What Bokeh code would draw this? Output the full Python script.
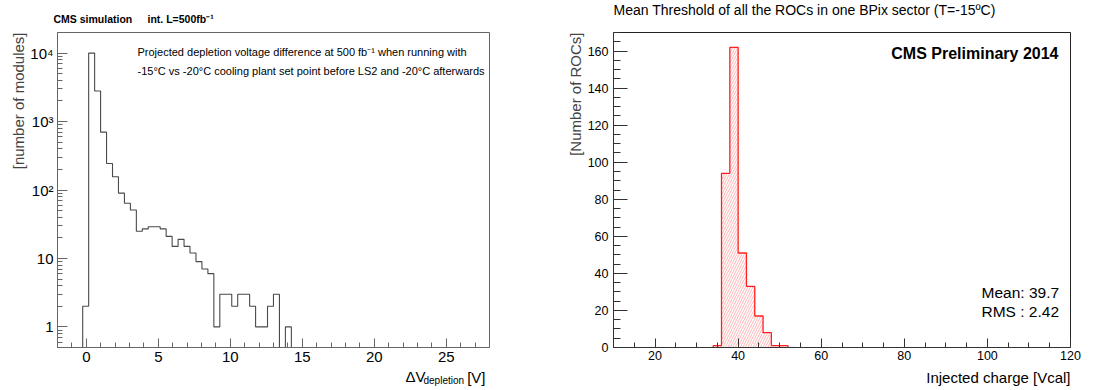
import numpy as np
from bokeh.plotting import figure
from bokeh.models import Label, FixedTicker, Range1d, Title
from bokeh.layouts import row, column
from bokeh.embed import file_html
from bokeh.resources import INLINE

FONT = "Liberation Sans"

# ---------------- data: left chart (depletion voltage difference) ----------------
dv_bin_start = -0.25
dv_bin_width = 0.414
dv_counts = [2, 10000, 2800, 700, 244, 156, 90, 64, 51, 25, 27, 29, 29, 27, 21,
             15, 19, 15, 12, 9, 7, 6, 1, 3, 3, 2, 3, 3, 2, 1, 1, 2, 3, 0, 1]
dv_major_ticks = [0, 5, 10, 15, 20, 25]
dv_y_ticks = [1, 10, 100, 1000, 10000]
dv_y_tick_labels = ["1", "10", "10\u00b2", "10\u00b3", "10\u2074"]

# ---------------- data: right chart (ROC thresholds) ----------------
roc_edges = [34, 36, 38, 40, 42, 44, 46, 48, 50, 52]
roc_counts = [1, 94, 162, 51, 33, 17, 8, 1, 1]
roc_x_ticks = [20, 40, 60, 80, 100, 120]
roc_y_ticks = [0, 20, 40, 60, 80, 100, 120, 140, 160]

W_HALF = 547
TOP_H, MAIN_H, BOT_H = 24, 342, 24


def step_path(edges, counts, floor):
    xs, ys = [edges[0]], [floor]
    for i, c in enumerate(counts):
        v = c if c > 0 else floor
        xs += [edges[i], edges[i + 1]]
        ys += [v, v]
    xs.append(edges[-1])
    ys.append(floor)
    return xs, ys


def style_axis(ax, color, major_in, minor_in, size, standoff):
    ax.axis_line_color = color
    ax.major_tick_line_color = color
    ax.minor_tick_line_color = color
    ax.major_tick_in = major_in
    ax.major_tick_out = 0
    ax.minor_tick_in = minor_in
    ax.minor_tick_out = 0
    ax.major_label_text_font = FONT
    ax.major_label_text_font_size = size
    ax.major_label_text_color = "black"
    ax.major_label_standoff = standoff


def add_label(p, text, X, Y, ox, oy, size, align="left", bold=False, angle=0.0):
    # X, Y: page coords; ox: page x of frame left, oy: page y of frame bottom
    p.add_layout(Label(x=X - ox, y=oy - Y, x_units="screen", y_units="screen", text=text,
                       text_font=FONT, text_font_size=size, text_align=align,
                       text_baseline="middle", text_color="black",
                       text_font_style="bold" if bold else "normal", angle=angle))


def strip(height):
    s = figure(width=W_HALF, height=height, min_border=0, x_axis_location=None,
               y_axis_location=None, x_range=Range1d(0, W_HALF), y_range=Range1d(0, height),
               output_backend="svg", toolbar_location=None)
    s.grid.visible = False
    s.outline_line_color = None
    s.background_fill_color = "white"
    s.border_fill_color = "white"
    return s


# ================= left figure =================
L_FL, L_FB = 57, 343  # page coords of frame left / bottom
p1 = figure(width=W_HALF, height=MAIN_H, frame_width=432, frame_height=315,
            min_border_left=57, min_border_right=58, min_border_top=4, min_border_bottom=23,
            x_range=Range1d(-2, 28), y_range=Range1d(0.5, 20000), y_axis_type="log",
            output_backend="svg", toolbar_location=None)
p1.grid.visible = False
p1.outline_line_color = "#666666"
p1.outline_line_width = 1
p1.background_fill_color = "white"
p1.border_fill_color = "white"

dv_edges = [dv_bin_start + i * dv_bin_width for i in range(len(dv_counts) + 1)]
xs, ys = step_path(dv_edges, dv_counts, 0.05)
p1.line(xs, ys, line_color="#4a4a4a", line_width=1.1)

p1.xaxis.ticker = FixedTicker(ticks=dv_major_ticks, minor_ticks=list(range(-2, 29)))
minor_log = [m * 10.0 ** e for e in range(-1, 5) for m in range(2, 10) if 0.5 <= m * 10.0 ** e <= 20000]
p1.yaxis.ticker = FixedTicker(ticks=dv_y_ticks, minor_ticks=minor_log)
p1.yaxis.major_label_overrides = {t: s for t, s in zip(dv_y_ticks, dv_y_tick_labels)}
style_axis(p1.xaxis[0], "#666666", 9, 5, "15px", 4)
style_axis(p1.yaxis[0], "#666666", 10, 5, "15px", 4)
p1.add_layout(Title(text="[number of modules]", align="right", text_font=FONT,
                    text_font_size="15px", text_font_style="normal", standoff=2), "left")

add_label(p1, "Projected depletion voltage difference at 500 fb\u207b\u00b9 when running with",
          137, 47, L_FL, L_FB, "11px")
add_label(p1, "-15\u00b0C vs -20\u00b0C cooling plant set point before LS2 and -20\u00b0C afterwards",
          137, 66, L_FL, L_FB, "11px")

# ================= right figure =================
R_FL, R_FB = 613, 347
p2 = figure(width=W_HALF, height=MAIN_H, frame_width=457, frame_height=315,
            min_border_left=66, min_border_right=24, min_border_top=8, min_border_bottom=19,
            x_range=Range1d(10, 120), y_range=Range1d(0, 170),
            output_backend="svg", toolbar_location=None)
p2.grid.visible = False
p2.outline_line_color = "#222222"
p2.outline_line_width = 1
p2.background_fill_color = "white"
p2.border_fill_color = "white"

p2.quad(left=roc_edges[:-1], right=roc_edges[1:], top=roc_counts, bottom=0,
        fill_color=None, line_color=None, hatch_pattern="/", hatch_color="#ff6060",
        hatch_alpha=0.8, hatch_scale=5, hatch_weight=0.6)
rx, ry = step_path(roc_edges, roc_counts, 0)
p2.line(rx, ry, line_color="#ff2020", line_width=1.3)

p2.xaxis.ticker = FixedTicker(ticks=roc_x_ticks, minor_ticks=list(range(10, 121, 5)))
p2.yaxis.ticker = FixedTicker(ticks=roc_y_ticks, minor_ticks=list(range(0, 171, 5)))
style_axis(p2.xaxis[0], "#333333", 9, 5, "12.5px", 3)
style_axis(p2.yaxis[0], "#333333", 14, 7, "12.5px", 5)
p2.add_layout(Title(text="[Number of ROCs]", align="right", text_font=FONT,
                    text_font_size="15px", text_font_style="normal", standoff=2), "left")

add_label(p2, "CMS Preliminary 2014", 1058, 53, R_FL, R_FB, "16px", align="right", bold=True)
add_label(p2, "Mean: 39.7", 981, 292, R_FL, R_FB, "15.5px")
add_label(p2, "RMS : 2.42", 981, 311, R_FL, R_FB, "15.5px")

# ================= text strips (above / below the charts) =================
top_l = strip(TOP_H)
add_label(top_l, "CMS simulation", 53, 18, 0, TOP_H, "10.5px", bold=True)
add_label(top_l, "int. L=500fb\u207b\u00b9", 147, 18, 0, TOP_H, "10.5px", bold=True)
top_r = strip(TOP_H)
add_label(top_r, "Mean Threshold of all the ROCs in one BPix sector (T=-15\u00baC)",
          613, 9, W_HALF, TOP_H, "14px")

BOT_Y0 = TOP_H + MAIN_H
bot_l = strip(BOT_H)
add_label(bot_l, "\u0394V", 405, 376, 0, BOT_Y0 + BOT_H, "15px")
add_label(bot_l, "depletion", 423, 380, 0, BOT_Y0 + BOT_H, "10px")
add_label(bot_l, "[V]", 485, 377, 0, BOT_Y0 + BOT_H, "15px", align="right")
bot_r = strip(BOT_H)
add_label(bot_r, "Injected charge [Vcal]", 1070, 377, W_HALF, BOT_Y0 + BOT_H, "15px", align="right")

layout = column(row(top_l, top_r), row(p1, p2), row(bot_l, bot_r))
open("out.html", "w").write(file_html(layout, INLINE))
